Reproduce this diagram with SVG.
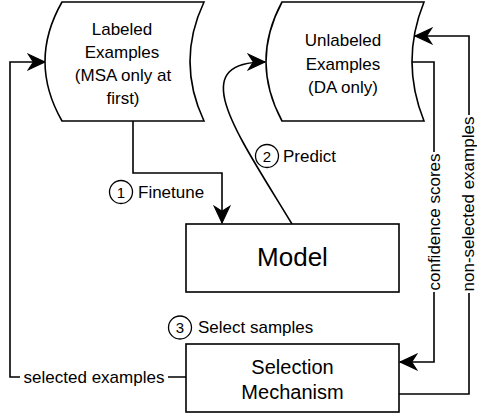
<svg xmlns="http://www.w3.org/2000/svg" width="477" height="418" viewBox="0 0 477 418">
<style>
.shape{fill:#fff;stroke:#000;stroke-width:1.6}
.edge{fill:none;stroke:#000;stroke-width:1.6}
.t{font-family:"Liberation Sans",Arial,sans-serif;fill:#000}
.lbl{font-size:17px}
.node{font-size:17px;text-anchor:middle}
.num{font-size:15px;text-anchor:middle}
.bg{fill:#fff;stroke:none}
</style>
<defs>
<marker id="arr" markerUnits="userSpaceOnUse" markerWidth="20" markerHeight="20" viewBox="-16 -8 18 16" refX="0" refY="0" orient="auto">
<path d="M0,0 L-15,-7 L-10.5,0 L-15,7 Z" fill="#000" stroke="#000" stroke-width="1"/>
</marker>
</defs>
<rect width="477" height="418" fill="#fff"/>
<g id="connectors">
<path class="edge" d="M133,121 V173 H222 V223" marker-end="url(#arr)"/>
<path class="edge" d="M292,224 C235,130 185,62 265,62" marker-end="url(#arr)"/>
<path class="edge" d="M412,62 H434 V362 H400" marker-end="url(#arr)"/>
<path class="edge" d="M399,394 H469 V36 H415" marker-end="url(#arr)"/>
<path class="edge" d="M186,377 H10 V62 H45" marker-end="url(#arr)"/>
<rect class="bg" x="20" y="367" width="148" height="20"/>
<text class="t lbl" x="94" y="383" text-anchor="middle">selected examples</text>
<g transform="translate(434,222) rotate(-90)">
<rect class="bg" x="-70" y="-10" width="140" height="20"/>
<text class="t lbl" x="0" y="6" text-anchor="middle">confidence scores</text>
</g>
<g transform="translate(469,204) rotate(-90)">
<rect class="bg" x="-89" y="-10" width="178" height="18"/>
<text class="t lbl" x="0" y="5" text-anchor="middle">non-selected examples</text>
</g>
<g id="step1">
<circle cx="121" cy="192" r="11.5" fill="#fff" stroke="#000" stroke-width="1.3"/>
<text class="t num" x="121" y="197.5">1</text>
<text class="t lbl" x="138" y="198">Finetune</text>
</g>
<g id="step2">
<circle cx="267" cy="156" r="11.5" fill="#fff" stroke="#000" stroke-width="1.3"/>
<text class="t num" x="267" y="161.5">2</text>
<text class="t lbl" x="283" y="162">Predict</text>
</g>
<g id="step3">
<circle cx="180" cy="327.5" r="11.5" fill="#fff" stroke="#000" stroke-width="1.3"/>
<text class="t num" x="180" y="333">3</text>
<text class="t lbl" x="198" y="333">Select samples</text>
</g>
</g>
<g id="labeled">
<path class="shape" d="M62,2 H204 Q176,61.5 204,121 H62 Q28,61.5 62,2 Z"/>
<text class="t node" x="122" y="35">Labeled</text>
<text class="t node" x="122" y="58">Examples</text>
<text class="t node" x="123" y="81">(MSA only at</text>
<text class="t node" x="123" y="104">first)</text>
</g>
<g id="unlabeled">
<path class="shape" d="M282,2 H424 Q400,61.5 424,121 H282 Q250,61.5 282,2 Z"/>
<text class="t node" x="343" y="46">Unlabeled</text>
<text class="t node" x="343" y="70">Examples</text>
<text class="t node" x="343" y="93">(DA only)</text>
</g>
<g id="model">
<rect class="shape" x="186" y="224" width="213" height="68"/>
<text class="t" x="292.5" y="266" font-size="26" text-anchor="middle">Model</text>
</g>
<g id="selection">
<rect class="shape" x="186" y="344" width="213" height="68"/>
<text class="t" x="292.5" y="374" font-size="20" text-anchor="middle">Selection</text>
<text class="t" x="292.5" y="399" font-size="20" text-anchor="middle">Mechanism</text>
</g>
</svg>
